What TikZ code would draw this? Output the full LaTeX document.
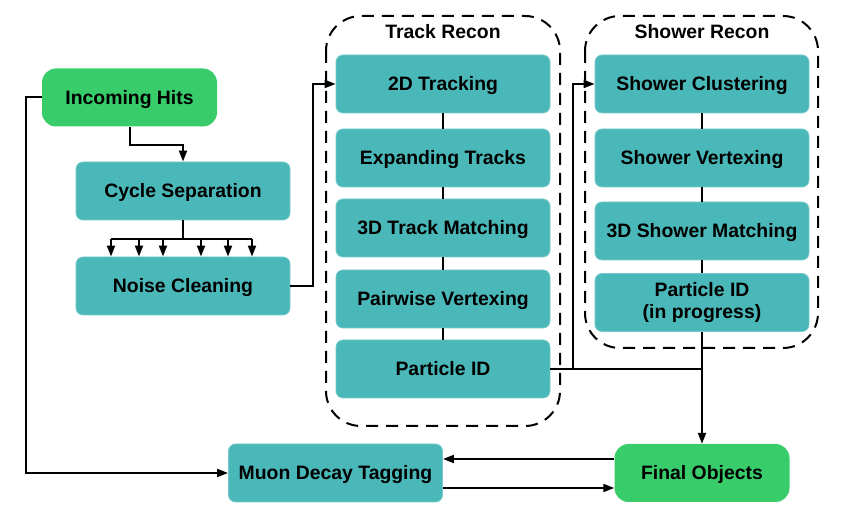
\documentclass[tikz,border=0pt]{standalone}
\usepackage{fontspec}
\setmainfont{Liberation Sans}
\usetikzlibrary{arrows.meta}
\definecolor{boxteal}{RGB}{74,184,185}
\definecolor{boxgreen}{RGB}{56,205,106}
\begin{document}
\begin{tikzpicture}[x=1pt, y=-1pt,
        font=\fontsize{19.4}{22}\selectfont\bfseries,
        stagebase/.style={fill=boxteal, draw=boxteal!75!white, line width=0.8pt, rounded corners=7pt,
            minimum width=214pt, minimum height=58pt, inner sep=0pt, align=center},
        stage/.style={stagebase, text height=13.9pt, text depth=0pt},
        terminal/.style={fill=boxgreen, rounded corners=14pt, minimum width=175pt, minimum height=58pt,
            inner sep=0pt, text height=13.9pt, text depth=0pt},
        grouptitle/.style={inner sep=0pt, text height=13.9pt, text depth=0pt},
        group/.style={draw, line width=2pt, dash pattern=on 12pt off 8pt, rounded corners=35pt},
        wire/.style={line width=2pt},
        flow/.style={wire, -{Triangle[length=11pt, width=8pt]}},
        link/.style={line width=1.2pt}]
    \useasboundingbox (0,0) rectangle (847,521);
    \draw[group] (326,16) rectangle (560,426);
    \draw[group] (585,16) rectangle (818,348);
    \node[grouptitle] (trktitle) at (443,31.5) {Track Recon};
    \node[grouptitle] (shwtitle) at (702,31.5) {Shower Recon};
    \node[terminal] (hits) at (129.5,97.5) {Incoming Hits};
    \node[stage] (cycle) at (183,191) {Cycle Separation};
    \node[stage] (noise) at (183,286) {Noise Cleaning};
    \node[stage] (trk2d) at (443,84) {2D Tracking};
    \node[stage] (expand) at (443,158) {Expanding Tracks};
    \node[stage] (trk3d) at (443,228) {3D Track Matching};
    \node[stage] (pairvtx) at (443,299) {Pairwise Vertexing};
    \node[stage] (trkpid) at (443,369) {Particle ID};
    \node[stage] (shwclus) at (702,84) {Shower Clustering};
    \node[stage] (shwvtx) at (702,158) {Shower Vertexing};
    \node[stage] (shw3d) at (702,231) {3D Shower Matching};
    \node[stagebase] (shwpid) at (702,302.5) {Particle ID\\(in progress)};
    \node[terminal] (final) at (702,473) {Final Objects};
    \node[stage] (muon) at (335.5,473) {Muon Decay Tagging};
    \draw[flow] (hits.south) -- ++(0,18) -| (cycle.north);
    \draw[wire] (cycle.south) -- ++(0,19) coordinate (fork);
    \draw[wire] (111,0 |- fork) -- (252,0 |- fork);
    \foreach \x in {111,139,163,201,228,252}
        \draw[flow] (\x,0 |- fork) -- (\x,0 |- noise.north);
    \draw[flow] (noise.east) -- ++(23,0) |- (trk2d.west);
    \foreach \a/\b in {trk2d/expand, expand/trk3d, trk3d/pairvtx, pairvtx/trkpid,
            shwclus/shwvtx, shwvtx/shw3d, shw3d/shwpid}
        \draw[link] (\a) -- (\b);
    \coordinate (split) at (573,0 |- trkpid.east);
    \draw[wire] (trkpid.east) -- (trkpid.east -| shwpid.south);
    \draw[flow] (split) |- (shwclus.west);
    \draw[flow] (shwpid.south) -- (final.north);
    \draw[flow] (hits.west) -- ++(-16,0) |- (muon.west);
    \draw[flow] ([yshift=14pt]final.west) -- ([yshift=14pt]muon.east);
    \draw[flow] ([yshift=-15pt]muon.east) -- ([yshift=-15pt]final.west);
\end{tikzpicture}
\end{document}
